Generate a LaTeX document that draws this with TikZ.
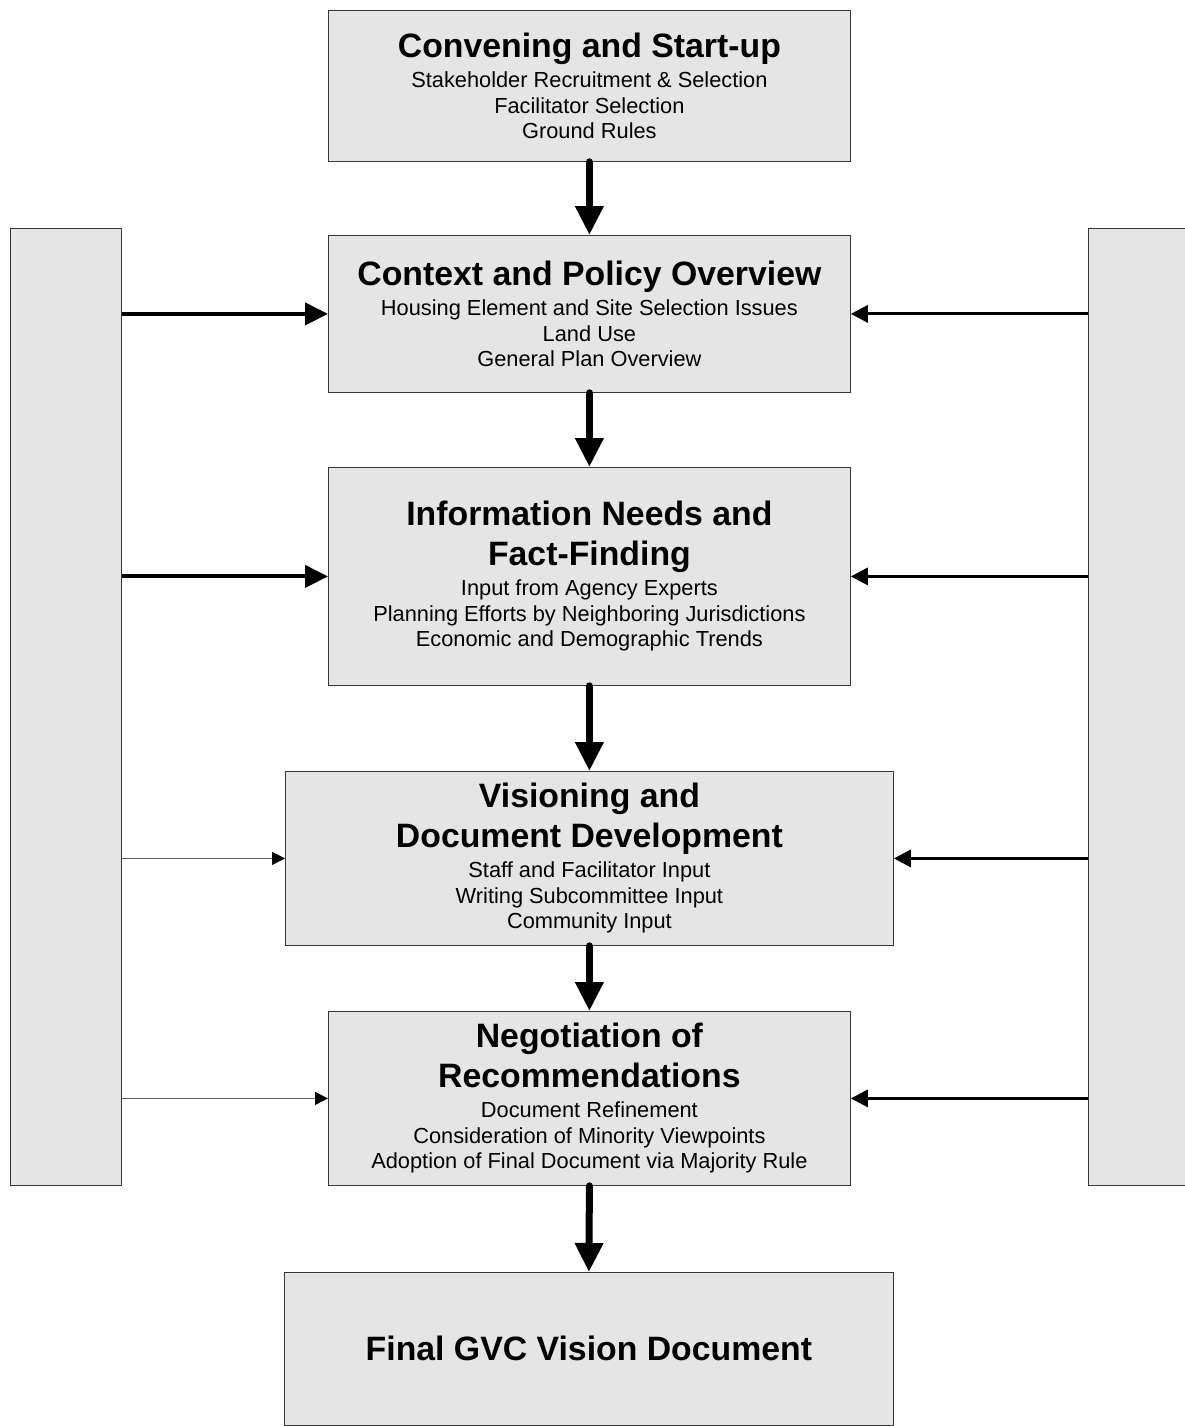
\documentclass[tikz,border=0pt]{standalone}
\usepackage{fontspec}
\setmainfont{Liberation Sans}
\usetikzlibrary{arrows.meta}
\definecolor{boxfill}{RGB}{229,229,229}
\definecolor{boxline}{RGB}{55,55,55}
\newcommand\gvcttl[1]{{\fontsize{33.8}{39.2}\selectfont\bfseries #1\par}\vspace{4.3pt}}
\newcommand\gvcsub{\fontsize{21.8}{25.8}\selectfont}
\begin{document}
\begin{tikzpicture}[x=1pt,y=-1pt,
  box/.style={draw=boxline, line width=0.8pt, fill=boxfill, inner sep=0pt, anchor=north west,
    execute at begin node={\centering\spaceskip=0pt\xspaceskip=0pt\relax}},
  sidebar/.style={draw=boxline, line width=0.8pt, fill=boxfill, inner sep=0pt, anchor=north west, minimum width=111pt, minimum height=957pt},
  bigarrow/.style={line width=7pt, line cap=round, -{Triangle[length=29pt,width=27pt]}},
  leftthick/.style={line width=4pt, -{Triangle[length=23pt,width=22pt]}},
  leftthin/.style={draw=black!60, line width=1pt, -{Triangle[length=13pt,width=13pt,color=black,fill=black]}},
  rightarrow/.style={line width=3pt, -{Triangle[length=17pt,width=17pt]}}
]
\useasboundingbox (0,0) rectangle (1185,1426);
\clip (0,0) rectangle (1185,1426);

\node[sidebar] (lbar) at (10,228) {};
\node[sidebar, minimum width=130pt] (rbar) at (1088,228) {};

\node[box, minimum width=522pt, minimum height=151pt, text width=510pt] (b1) at (328,10)
  {\gvcttl{Convening and Start-up}\gvcsub Stakeholder Recruitment \& Selection\\ Facilitator Selection\\ Ground Rules\par};
\node[box, minimum width=522pt, minimum height=157pt, text width=510pt] (b2) at (328,235)
  {\gvcttl{Context and Policy Overview}\gvcsub Housing Element and Site Selection Issues\\ Land Use\\ General Plan Overview\par};
\node[box, minimum width=522pt, minimum height=218pt, text width=510pt] (b3) at (328,467)
  {\gvcttl{Information Needs and\\ Fact-Finding}\gvcsub Input from Agency Experts\\ Planning Efforts by Neighboring Jurisdictions\\ Economic and Demographic Trends\par};
\node[box, minimum width=608pt, minimum height=174pt, text width=596pt] (b4) at (285,771)
  {\gvcttl{Visioning and\\ Document Development}\gvcsub Staff and Facilitator Input\\ Writing Subcommittee Input\\ Community Input\par};
\node[box, minimum width=522pt, minimum height=174pt, text width=510pt] (b5) at (328,1011)
  {\gvcttl{Negotiation of\\ Recommendations}\gvcsub Document Refinement\\ Consideration of Minority Viewpoints\\ Adoption of Final Document via Majority Rule\par};
\node[box, minimum width=609pt, minimum height=153pt, text width=596pt] (b6) at (284,1272)
  {\fontsize{33.8}{39.2}\selectfont\bfseries Final GVC Vision Document\par};

\draw[bigarrow] (b1.south) -- (b2.north);
\draw[bigarrow] (b2.south) -- (b3.north);
\draw[bigarrow] (b3.south) -- (b4.north);
\draw[bigarrow] (b4.south) -- (b5.north);
\draw[bigarrow] (b5.south) -- (b6.north);

\draw[leftthick] (lbar.east |- b2.west) -- (b2.west);
\draw[leftthick] (lbar.east |- b3.west) -- (b3.west);
\draw[leftthin] (lbar.east |- b4.west) -- (b4.west);
\draw[leftthin] (lbar.east |- b5.west) -- (b5.west);

\draw[rightarrow] (rbar.west |- b2.east) -- (b2.east);
\draw[rightarrow] (rbar.west |- b3.east) -- (b3.east);
\draw[rightarrow] (rbar.west |- b4.east) -- (b4.east);
\draw[rightarrow] (rbar.west |- b5.east) -- (b5.east);
\end{tikzpicture}
\end{document}
